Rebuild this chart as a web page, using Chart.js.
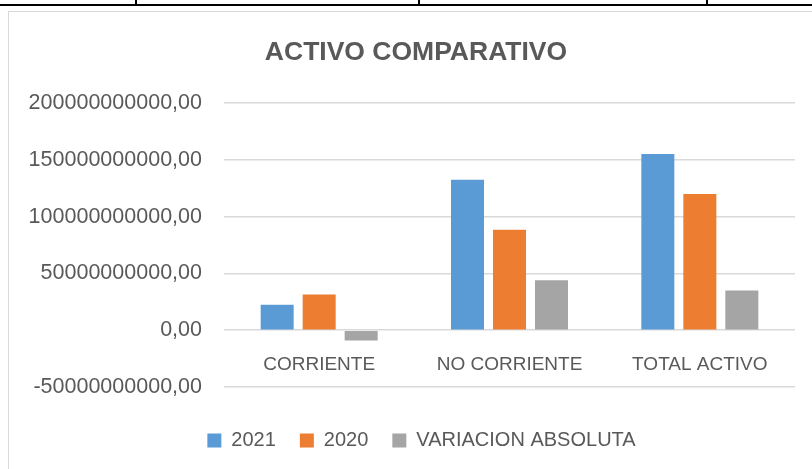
<!DOCTYPE html>
<html>
<head>
<meta charset="utf-8">
<title>Activo comparativo</title>
<script src="https://cdn.jsdelivr.net/npm/chart.js@4/dist/chart.umd.min.js"></script>
<style>
    body {
        margin: 0;
        background: #fff;
        width: 812px;
        height: 469px;
        overflow: hidden;
        position: relative;
    }
    /* restos de la tabla de la hoja de calculo */
    .hline { position: absolute; left: 0; top: 4px; width: 812px; height: 2px; background: #000; }
    .vline { position: absolute; top: 0; width: 2px; height: 5px; background: #000; }
    .frame {
        position: absolute;
        left: 8px;
        top: 11px;
        width: 830px;
        height: 480px;
        border: 1px solid #d9d9d9;
    }
    #chart { position: absolute; left: 0; top: 0; }
</style>
</head>
<body>
<div class="hline"></div>
<div class="vline" style="left:135px"></div>
<div class="vline" style="left:418px"></div>
<div class="vline" style="left:706px"></div>
<div class="frame"></div>
<canvas id="chart" width="812" height="469"></canvas>

<script>
// Datos
const categorias = ['CORRIENTE', 'NO CORRIENTE', 'TOTAL ACTIVO'];
const valores2021 = [22500000000, 132500000000, 155000000000];
const valores2020 = [31500000000, 88500000000, 120000000000];
const variacionAbsoluta = [-9000000000, 44000000000, 35000000000];
const ejeMin = -50000000000;
const ejeMax = 200000000000;
const ejePaso = 50000000000;

const textColor = '#595959';
const gridColor = '#d9d9d9';
const fontFamily = '"Liberation Sans", Arial, sans-serif';

// El titulo y la leyenda de Excel estan centrados en todo el objeto grafico,
// que empieza en el marco gris; se corren un poco a la derecha.
const centrarBloques = {
    id: 'centrarBloques',
    afterLayout(chart) {
        if (chart.titleBlock) chart.titleBlock.left += 37;
        if (chart.legend) chart.legend.left += 48;
    }
};

const ctx = document.getElementById('chart').getContext('2d');
new Chart(ctx, {
    type: 'bar',
    data: {
        labels: categorias,
        datasets: [
            { label: '2021', data: valores2021, backgroundColor: '#5B9BD5' },
            { label: '2020', data: valores2020, backgroundColor: '#ED7D31' },
            { label: 'VARIACION ABSOLUTA', data: variacionAbsoluta, backgroundColor: '#A5A5A5' }
        ]
    },
    plugins: [centrarBloques],
    options: {
        responsive: false,
        animation: false,
        categoryPercentage: 0.662,
        barPercentage: 0.786,
        layout: {
            padding: { left: 0, right: 17, top: 0, bottom: 8.5 }
        },
        plugins: {
            title: {
                display: true,
                text: 'ACTIVO COMPARATIVO',
                color: textColor,
                font: { family: fontFamily, size: 26.5, weight: 'bold' },
                padding: { top: 37, bottom: 34.2 }
            },
            legend: {
                position: 'bottom',
                title: {
                    // titulo vacio solo para dejar espacio encima de la leyenda
                    display: true,
                    text: '',
                    font: { size: 19.5, lineHeight: 1 },
                    padding: 0
                },
                labels: {
                    color: textColor,
                    font: { family: fontFamily, size: 20 },
                    boxWidth: 14,
                    boxHeight: 14,
                    padding: 24
                }
            },
            tooltip: { enabled: false }
        },
        scales: {
            x: {
                // eje de categorias sobre el valor cero, como en Excel
                position: { y: 0 },
                grid: { display: false, drawTicks: false },
                border: { display: false },
                ticks: {
                    color: textColor,
                    font: { family: fontFamily, size: 19 },
                    padding: 23
                }
            },
            y: {
                min: ejeMin,
                max: ejeMax,
                afterFit: (scale) => {
                    scale.width = 224;
                },
                grid: { color: gridColor, lineWidth: 1.5, drawTicks: false },
                border: { display: false },
                ticks: {
                    stepSize: ejePaso,
                    color: textColor,
                    font: { family: fontFamily, size: 21.5 },
                    padding: 22,
                    callback: (value) => value.toFixed(2).replace('.', ',')
                }
            }
        }
    }
});
</script>
</body>
</html>
